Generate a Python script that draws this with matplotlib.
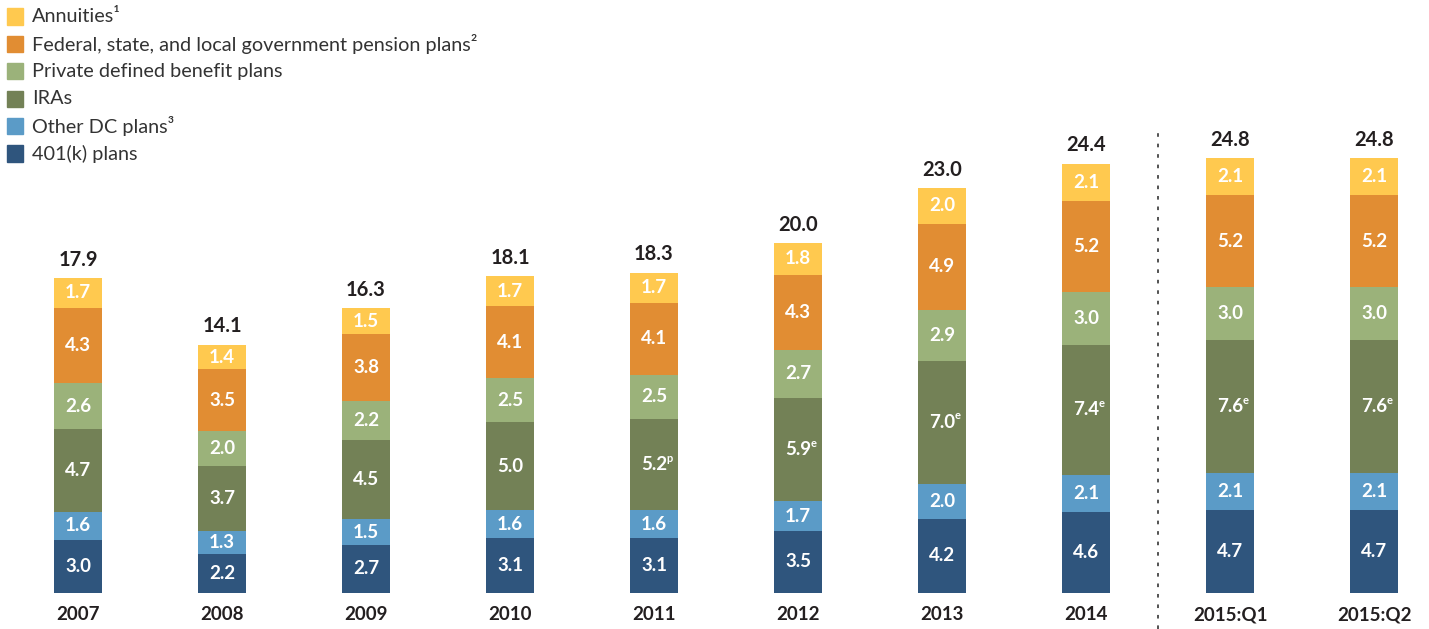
import matplotlib
matplotlib.use('Agg')
import matplotlib.pyplot as plt
from matplotlib.patches import Rectangle

# ---------------- data ----------------
categories = ['2007', '2008', '2009', '2010', '2011', '2012', '2013', '2014', '2015:Q1', '2015:Q2']
k401 = [3.0, 2.2, 2.7, 3.1, 3.1, 3.5, 4.2, 4.6, 4.7, 4.7]
other_dc = [1.6, 1.3, 1.5, 1.6, 1.6, 1.7, 2.0, 2.1, 2.1, 2.1]
iras = [4.7, 3.7, 4.5, 5.0, 5.2, 5.9, 7.0, 7.4, 7.6, 7.6]
ira_notes = ['', '', '', '', 'p', 'e', 'e', 'e', 'e', 'e']
private_db = [2.6, 2.0, 2.2, 2.5, 2.5, 2.7, 2.9, 3.0, 3.0, 3.0]
gov_pension = [4.3, 3.5, 3.8, 4.1, 4.1, 4.3, 4.9, 5.2, 5.2, 5.2]
annuities = [1.7, 1.4, 1.5, 1.7, 1.7, 1.8, 2.0, 2.1, 2.1, 2.1]
totals = [17.9, 14.1, 16.3, 18.1, 18.3, 20.0, 23.0, 24.4, 24.8, 24.8]

series_names = ['401(k) plans', 'Other DC plans\u00b3', 'IRAs', 'Private defined benefit plans',
                'Federal, state, and local government pension plans\u00b2', 'Annuities\u00b9']
series_values = [k401, other_dc, iras, private_db, gov_pension, annuities]
colors = ['#2F557D', '#5B9BC7', '#738156', '#9BB27A', '#E18D33', '#FFC94F']

FONT = ['Lato', 'DejaVu Sans']
plt.rcParams['font.family'] = FONT

W, H = 1429, 629
fig = plt.figure(figsize=(W / 100, H / 100), dpi=100)
ax = fig.add_axes([0, 0, 1, 1])

# pixel geometry -> data limits
x0_px, step_px = 78, 144
base_px_from_bottom = H - 592.7
unit_px = 17.58
ax.set_xlim(-x0_px / step_px, (W - x0_px) / step_px)
ax.set_ylim(-base_px_from_bottom / unit_px, (H - base_px_from_bottom) / unit_px)
ax.axis('off')

x = list(range(len(categories)))
width = 48 / step_px
bottoms = [0.0] * len(categories)
for si, (vals, col) in enumerate(zip(series_values, colors)):
    ax.bar(x, vals, width=width, bottom=bottoms, color=col, edgecolor='none', zorder=2)
    for i, v in enumerate(vals):
        yc = bottoms[i] + v / 2
        t = ax.text(x[i], yc, f'{v:.1f}', ha='center', va='center', color='white',
                    fontsize=13.5, fontweight='bold', zorder=3)
        if si == 2 and ira_notes[i]:
            ax.annotate(ira_notes[i], xy=(1, 0.5), xycoords=t, xytext=(-0.6, 2.0),
                        textcoords='offset points', ha='left', va='baseline',
                        color='white', fontsize=8, fontweight='bold', zorder=3)
    bottoms = [b + v for b, v in zip(bottoms, vals)]

# totals
for i, tot in enumerate(totals):
    ax.annotate(f'{tot:.1f}', xy=(x[i], bottoms[i]), xytext=(0, 6), textcoords='offset points',
                ha='center', va='bottom', color='#231F20', fontsize=14.5, fontweight='bold')

# category labels
for i, c in enumerate(categories):
    ax.text(x[i], ax.get_ylim()[0] + (H - 615) / unit_px, c, ha='center', va='center',
            color='#231F20', fontsize=13.5, fontweight='bold')

# dashed separator
ax.axvline(7.5, ymin=0, ymax=(H - 133) / H, color='#444444', lw=1.3,
           linestyle=(0, (2.0, 3.8)), zorder=1)

# legend (top-left), top item first
legend_items = list(zip(series_names, colors))[::-1]
for k, (name, col) in enumerate(legend_items):
    yc = 16.5 + k * 27.4
    fig.patches.append(Rectangle((7 / W, 1 - (yc + 8) / H), 16 / W, 16 / H,
                                 transform=fig.transFigure, color=col, figure=fig))
    fig.text(32 / W, 1 - yc / H, name, ha='left', va='center', color='#333333', fontsize=14.3)

fig.savefig('out.png', dpi=100)
